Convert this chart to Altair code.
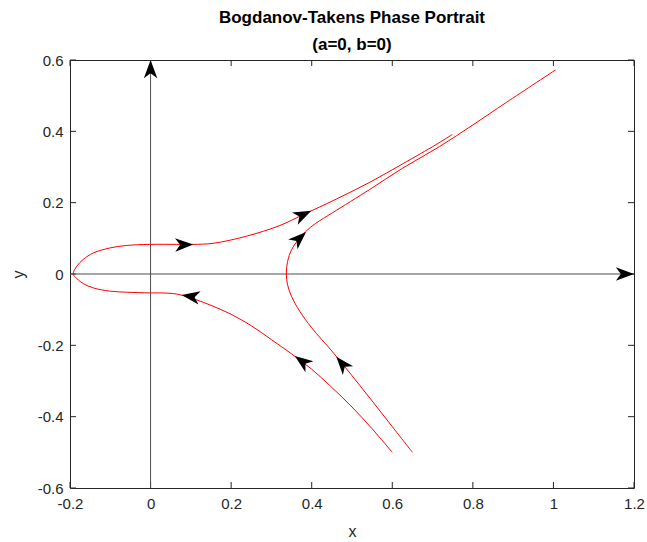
import math
import altair as alt
import pandas as pd

# Axis ranges and tick values
x_domain = [-0.2, 1.2]
y_domain = [-0.6, 0.6]
x_ticks = [-0.2, 0, 0.2, 0.4, 0.6, 0.8, 1, 1.2]
y_ticks = [-0.6, -0.4, -0.2, 0, 0.2, 0.4, 0.6]

# Trajectory starting at (0.6, -0.5)
traj1_x = [0.600, 0.550, 0.500, 0.450, 0.400, 0.350, 0.300, 0.250, 0.200, 0.150,
           0.100, 0.064, 0.023, -0.002, -0.060, -0.101, -0.142, -0.167, -0.183,
           -0.192, -0.183, -0.167, -0.142, -0.101, -0.060, -0.002, 0.064, 0.105, 0.155,
           0.238, 0.321, 0.378, 0.461, 0.544, 0.626, 0.709, 0.749]
traj1_y = [-0.500, -0.434, -0.373, -0.318, -0.267, -0.224, -0.184, -0.145, -0.113, -0.088,
           -0.067, -0.056, -0.053, -0.053, -0.051, -0.048, -0.039, -0.027, -0.013,
           0.000, 0.022, 0.041, 0.059, 0.073, 0.080, 0.083, 0.083, 0.083, 0.086,
           0.106, 0.136, 0.166, 0.210, 0.257, 0.309, 0.363, 0.391]

# Trajectory starting at (0.65, -0.5)
traj2_x = [0.650, 0.600, 0.550, 0.500, 0.450, 0.400, 0.370, 0.350, 0.340, 0.337,
           0.340, 0.350, 0.365, 0.385, 0.410, 0.452, 0.544, 0.626, 0.717, 0.800,
           0.883, 1.005]
traj2_y = [-0.500, -0.428, -0.356, -0.285, -0.216, -0.151, -0.104, -0.063, -0.030, 0.000,
           0.035, 0.068, 0.094, 0.119, 0.142, 0.172, 0.237, 0.297, 0.357, 0.418,
           0.481, 0.572]

# Direction markers along the trajectories (tip positions)
arrow_x = [0.106, 0.399, 0.386, 0.077, 0.358, 0.461]
arrow_y = [0.083, 0.177, 0.118, -0.059, -0.230, -0.232]
arrow_traj = [1, 1, 2, 1, 1, 2]

# Coordinate axes through the origin: (x0, y0) -> (x1, y1)
axis_lines = {"vertical": ([0, 0], [-0.6, 0.6]), "horizontal": ([-0.2, 1.2], [0, 0])}

W, H = 564, 428
TICK = 6
kx = W / (x_domain[1] - x_domain[0])
ky = H / (y_domain[1] - y_domain[0])


def heading(xs, ys, px, py):
    """Screen angle (degrees, clockwise) of the path direction nearest (px, py)."""
    n = len(xs)
    i = min(range(n), key=lambda k: ((xs[k] - px) * kx) ** 2 + ((ys[k] - py) * ky) ** 2)
    a, b = max(i - 1, 0), min(i + 1, n - 1)
    dx = (xs[b] - xs[a]) * kx
    dy = -(ys[b] - ys[a]) * ky
    return math.degrees(math.atan2(dy, dx)) % 360


trajs = {1: (traj1_x, traj1_y), 2: (traj2_x, traj2_y)}

curve_rows = []
for t, (xs, ys) in trajs.items():
    for k, (xv, yv) in enumerate(zip(xs, ys)):
        curve_rows.append({"traj": t, "order": k, "x": xv, "y": yv})
curves = pd.DataFrame(curve_rows)

axis_rows = []
head_rows = []
for name, (xs, ys) in axis_lines.items():
    for k, (xv, yv) in enumerate(zip(xs, ys)):
        axis_rows.append({"name": name, "order": k, "x": xv, "y": yv})
    head_rows.append({"x": xs[-1], "y": ys[-1], "angle": heading(xs, ys, xs[-1], ys[-1])})
axes_df = pd.DataFrame(axis_rows)

for ax_, ay_, t in zip(arrow_x, arrow_y, arrow_traj):
    xs, ys = trajs[t]
    head_rows.append({"x": ax_, "y": ay_, "angle": heading(xs, ys, ax_, ay_)})
heads = pd.DataFrame(head_rows)

# Arrowhead with notched back, tip at the origin, pointing right
ARROW = "M0,0L-2,-0.74L-1.45,0L-2,0.74Z"

FONT = "Liberation Sans"
AX = "#262626"

X = alt.X("x:Q", scale=alt.Scale(domain=x_domain, nice=False, zero=False),
          axis=alt.Axis(values=x_ticks, title="x", labelPadding=8, titlePadding=12))
Y = alt.Y("y:Q", scale=alt.Scale(domain=y_domain, nice=False, zero=False),
          axis=alt.Axis(values=y_ticks, title="y", labelPadding=7, titlePadding=11))

axes_layer = alt.Chart(axes_df).mark_line(color="#4d4d4d", strokeWidth=1).encode(
    x=X, y=Y, detail="name:N", order="order:Q")

curve_layer = alt.Chart(curves).mark_line(
    color="#ff0000", strokeWidth=1, interpolate="catmull-rom").encode(
    x=X, y=Y, detail="traj:N", order="order:Q")

head_layer = alt.Chart(heads).mark_point(
    shape=ARROW, filled=True, color="black", opacity=1, size=330, strokeWidth=0).encode(
    x=X, y=Y, angle=alt.Angle("angle:Q", scale=None))

xt = pd.DataFrame({"x": x_ticks})
yt = pd.DataFrame({"y": y_ticks})
tick_style = dict(color=AX, strokeWidth=1)
ticks_bottom = alt.Chart(xt).mark_rule(**tick_style).encode(
    x=X, y=alt.value(H), y2=alt.value(H - TICK))
ticks_top = alt.Chart(xt).mark_rule(**tick_style).encode(
    x=X, y=alt.value(0), y2=alt.value(TICK))
ticks_left = alt.Chart(yt).mark_rule(**tick_style).encode(
    y=Y, x=alt.value(0), x2=alt.value(TICK))
ticks_right = alt.Chart(yt).mark_rule(**tick_style).encode(
    y=Y, x=alt.value(W), x2=alt.value(W - TICK))

chart = alt.layer(
    ticks_bottom, ticks_top, ticks_left, ticks_right,
    axes_layer, curve_layer, head_layer,
).properties(
    width=W,
    height=H,
    title=alt.TitleParams(
        text=["Bogdanov-Takens Phase Portrait", "(a=0, b=0)"],
        font=FONT, fontSize=17, fontWeight="bold", color="black",
        lineHeight=27, anchor="middle", offset=-1,
    ),
    autosize=alt.AutoSizeParams(type="none"),
    padding={"left": 70, "top": 60, "right": 13, "bottom": 54},
).configure_view(
    stroke=AX, strokeWidth=1
).configure_axis(
    domain=False, ticks=False, grid=False, labelFlush=False,
    labelFont=FONT, labelFontSize=15, labelColor=AX,
    titleFont=FONT, titleFontSize=16, titleFontWeight="normal", titleColor=AX,
    labelExpr="toString(datum.value)",
)

chart.save("out.html", embed_options={"renderer": "svg", "actions": False})
